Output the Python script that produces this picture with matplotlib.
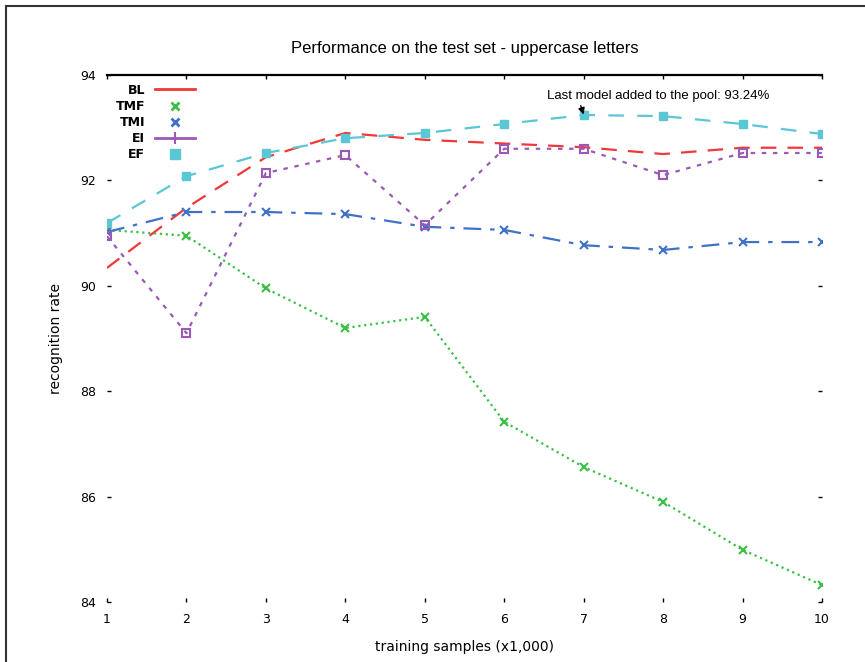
import matplotlib
matplotlib.use('Agg')
from matplotlib import pyplot as plt
from matplotlib.lines import Line2D
import numpy as np

# training samples (x1,000)
samples = [1, 2, 3, 4, 5, 6, 7, 8, 9, 10]

# recognition rate per method
bl  = [90.34, 91.48, 92.44, 92.90, 92.77, 92.70, 92.63, 92.50, 92.62, 92.62]
tmf = [91.06, 90.95, 89.95, 89.20, 89.41, 87.42, 86.56, 85.90, 84.99, 84.32]
tmi = [91.02, 91.40, 91.40, 91.36, 91.12, 91.06, 90.77, 90.68, 90.83, 90.83]
ei  = [90.94, 89.10, 92.14, 92.48, 91.15, 92.60, 92.60, 92.10, 92.52, 92.52]
ef  = [91.19, 92.08, 92.52, 92.80, 92.90, 93.07, 93.24, 93.22, 93.07, 92.88]

labels = ['BL', 'TMF', 'TMI', 'EI', 'EF']
yticks = [84, 86, 88, 90, 92, 94]

colors = ['#f03838', '#3cbf46', '#3f72c6', '#9b59b6', '#5bc6d4']

fig = plt.figure(figsize=(8.65, 6.62), dpi=100)
ax = fig.add_axes([107/865, 1 - 602/662, 715/865, 527/662])

ax.plot(samples, bl, color=colors[0], lw=1.6, ls=(0, (7, 5)))
ax.plot(samples, tmf, color=colors[1], lw=1.6, ls=':', marker='x', ms=6, mew=1.5)
ax.plot(samples, tmi, color=colors[2], lw=1.6, ls=(0, (8, 4, 2, 4)), marker='x',
        ms=6, mew=1.5)
ax.plot(samples, ei, color=colors[3], lw=1.6, ls=(0, (2, 3)), marker='s', ms=6,
        mfc='none', mew=1.5)
ax.plot(samples, ef, color=colors[4], lw=1.6, ls=(0, (7, 6)), marker='s', ms=6)

# gnuplot-like key: text on the left, sample on the right
handles = [
    Line2D([], [], color=colors[0], lw=2),
    Line2D([], [], color=colors[1], ls='none', marker='x', ms=6, mew=2),
    Line2D([], [], color=colors[2], ls='none', marker='x', ms=6, mew=2),
    Line2D([], [], color=colors[3], lw=2, marker='|', ms=8, mew=1.5),
    Line2D([], [], color=colors[4], ls='none', marker='s', ms=7),
]

ax.set_xlim(1, 10)
ax.set_ylim(84, 94)
ax.set_xticks(samples)
ax.set_yticks(yticks)
ax.tick_params(direction='in', length=3, width=1, labelsize=9, pad=8,
               top=True, right=True)

for s in ['left', 'right', 'bottom']:
    ax.spines[s].set_visible(False)
ax.spines['top'].set_linewidth(1.6)

ax.set_title('Performance on the test set - uppercase letters', fontsize=12,
             pad=16, family='Liberation Sans')
ax.set_xlabel('training samples (x1,000)', fontsize=10, labelpad=10)
ax.set_ylabel('recognition rate', fontsize=10, labelpad=12)

leg = ax.legend(handles, labels, loc='upper left', bbox_to_anchor=(0.0, 1.0),
                frameon=False, markerfirst=False, fontsize=9, handlelength=3.2,
                labelspacing=0.25, borderaxespad=0.3)
for t in leg.get_texts():
    t.set_fontweight('bold')

ax.annotate('Last model added to the pool: 93.24%', xy=(7, 93.25),
            xytext=(6.54, 93.61), ha='left', va='center', fontsize=9.5,
            family='Liberation Sans',
            arrowprops=dict(arrowstyle='-|>', color='black', lw=1,
                            relpos=(0.145, 0.0), shrinkA=1, shrinkB=0))

# frame around the picture (left and top edges)
fig.add_artist(Line2D([6/865, 6/865], [0, 1 - 6/662], color='#333333', lw=1.5,
                      transform=fig.transFigure))
fig.add_artist(Line2D([6/865, 1], [1 - 6/662, 1 - 6/662], color='#333333', lw=1.5,
                      transform=fig.transFigure))

fig.savefig('out.png', dpi=100)
